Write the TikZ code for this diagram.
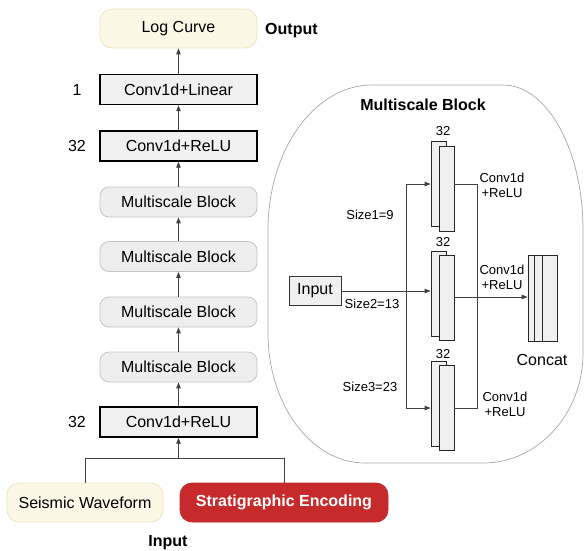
\documentclass[tikz,border=0pt]{standalone}
\usepackage{fontspec}
\setmainfont{Liberation Sans}
\usepackage{tikz}
\usetikzlibrary{arrows.meta, positioning, calc}
\definecolor{myline}{HTML}{404040}
\definecolor{mygray}{HTML}{F0F0F0}
\definecolor{myblock}{HTML}{EEEEEE}
\definecolor{myblockedge}{HTML}{C4C4C4}
\definecolor{mycream}{HTML}{FCF8E6}
\definecolor{mycreamedge}{HTML}{EDE4BE}
\definecolor{myred}{HTML}{C62A2A}
\tikzset{
	bigfont/.style={font=\fontsize{16}{19}\selectfont},
	smallfont/.style={font=\fontsize{13}{15}\selectfont},
	layernode/.style={
			bigfont,
			rectangle,
			draw=black,
			line width=1.4pt,
			fill=mygray,
			minimum width=157pt,
			minimum height=30pt,
			inner sep=0pt
		},
	blocknode/.style={
			layernode,
			draw=myblockedge,
			fill=myblock,
			line width=0.8pt,
			rounded corners=9pt
		},
	creamnode/.style={
			blocknode,
			draw=mycreamedge,
			fill=mycream,
			minimum height=39pt,
			rounded corners=12pt
		},
	encnode/.style={
			creamnode,
			draw=myred,
			fill=myred,
			text=white,
			font=\fontsize{16}{19}\selectfont\bfseries
		},
	frameline/.style={
			draw=black!35,
			line width=0.7pt
		},
	kernelnode/.style={
			rectangle,
			draw=black!85,
			line width=0.8pt,
			fill=mygray,
			minimum width=15pt,
			minimum height=85pt,
			inner sep=0pt
		},
	inputnode/.style={
			bigfont,
			rectangle,
			draw=black!80,
			line width=0.8pt,
			fill=mygray,
			minimum width=52pt,
			minimum height=29pt,
			inner sep=0pt
		},
	plainlabel/.style={bigfont, inner sep=0pt},
	boldlabel/.style={font=\fontsize{16}{19}\selectfont\bfseries, inner sep=0pt},
	smalllabel/.style={smallfont, inner sep=0pt, align=center},
	arr/.style={draw=myline, line width=0.9pt, -{Triangle[length=6pt,width=4.5pt]}},
	wire/.style={draw=myline, line width=0.9pt}
}

\begin{document}
\begin{tikzpicture}[x=1pt, y=-1pt]
\useasboundingbox (0,0) rectangle (584,550);

% main network
\node[creamnode] (logc) at (178.5,28.5) {Log Curve};
\node[layernode] (convlin) at (178.5,89.5) {Conv1d+Linear};
\node[layernode] (convtop) at (178.5,146) {Conv1d+ReLU};
\node[blocknode] (ms1) at (178.5,202) {Multiscale Block};
\node[blocknode] (ms2) at (178.5,256.5) {Multiscale Block};
\node[blocknode] (ms3) at (178.5,312) {Multiscale Block};
\node[blocknode] (ms4) at (178.5,367) {Multiscale Block};
\node[layernode] (convbot) at (178.5,422) {Conv1d+ReLU};
\node[creamnode, minimum width=156pt] (seis) at (85,502.5) {Seismic Waveform};
\node[encnode, minimum width=208pt] (strat) at (284,502.5) {Stratigraphic Encoding};

\node[boldlabel, anchor=west] (outlab) at (265,31) {Output};
\node[boldlabel] (inlab) at (168,543) {Input};
\node[plainlabel] (ch1) at (77,90) {1};
\node[plainlabel] (ch2) at (77,146) {32};
\node[plainlabel] (ch3) at (77,422) {32};

\draw[arr] (convlin) -- (logc);
\draw[arr] (convtop) -- (convlin);
\draw[arr] (ms1) -- (convtop);
\draw[arr] (ms2) -- (ms1);
\draw[arr] (ms3) -- (ms2);
\draw[arr] (ms4) -- (ms3);
\draw[arr] (convbot) -- (ms4);

\coordinate (join) at (178.5,458);
\draw[wire] (seis.north) -- (seis.north |- join) -- (strat.north |- join) -- (strat.north);
\draw[arr] (join) -- (convbot);

% multiscale block detail
\draw[frameline] (372,85) -- (503,85)
  arc[start angle=-90, end angle=0, x radius=80, y radius=145] -- (583,353)
  arc[start angle=0, end angle=90, x radius=100, y radius=110] -- (365,463)
  arc[start angle=90, end angle=180, x radius=97, y radius=130] -- (268,230)
  arc[start angle=180, end angle=270, x radius=104, y radius=145] -- cycle;
\node[boldlabel] (mstitle) at (423,105) {Multiscale Block};

\node[kernelnode] (k1b) at (438.5,184) {};
\node[kernelnode] (k1f) at (446.5,188.5) {};
\node[kernelnode] (k2b) at (438.5,294) {};
\node[kernelnode] (k2f) at (446.5,298) {};
\node[kernelnode] (k3b) at (438.5,404) {};
\node[kernelnode] (k3f) at (446.5,408) {};

\node[smalllabel] (n1) at (443,131) {32};
\node[smalllabel] (n2) at (443,242) {32};
\node[smalllabel] (n3) at (443,354) {32};

\node[inputnode] (inp) at (315,291) {Input};

\node[kernelnode, minimum width=20pt, minimum height=86pt] (cc1) at (538,298) {};
\node[kernelnode, minimum width=16pt, minimum height=86pt] (cc2) at (542,298) {};
\node[kernelnode, minimum width=15pt, minimum height=86pt] (cc3) at (549.5,298) {};
\node[plainlabel] (cclab) at (542,360) {Concat};

\node[smalllabel] (s1) at (370,215) {Size1=9};
\node[smalllabel] (s2) at (372,304) {Size2=13};
\node[smalllabel] (s3) at (370,387) {Size3=23};
\node[smalllabel] (c1) at (502,185) {Conv1d\\+ReLU};
\node[smalllabel] (c2) at (502,277) {Conv1d\\+ReLU};
\node[smalllabel] (c3) at (505,404) {Conv1d\\+ReLU};

\coordinate (t1) at (406,184);
\coordinate (t3) at (406,408);
\coordinate (o1) at (477,184);
\coordinate (o3) at (477,408);
\coordinate (o2) at (477,297);

\draw[wire] (t1) -- (t3);
\draw[arr] (t1) -- (t1 -| k1b.west);
\draw[arr] (t3) -- (t3 -| k3b.west);
\draw[arr] (inp.east) -- (inp.east -| k2b.west);

\draw[wire] (o1 -| k1f.east) -- (o1) -- (o3) -- (o3 -| k3f.east);
\draw[arr] (o2 -| k2f.east) -- (o2 -| cc1.west);
\end{tikzpicture}
\end{document}
